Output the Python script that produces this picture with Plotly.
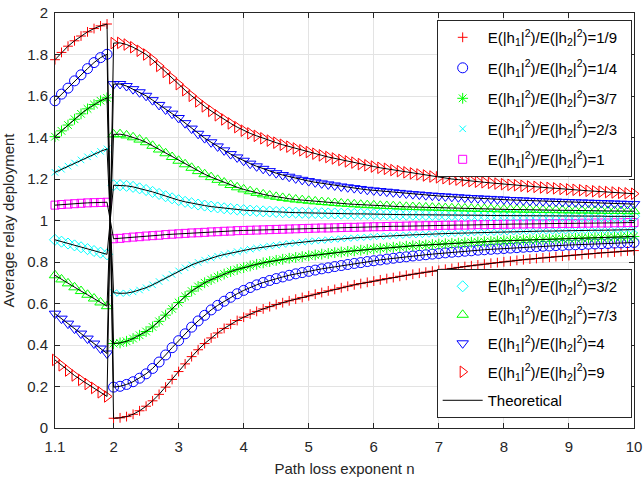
import plotly.graph_objects as go

# x grids
n_low = [1.1, 1.2, 1.3, 1.4, 1.5, 1.6, 1.7, 1.8, 1.9]
n_high = [round(2.0 + 0.1 * i, 1) for i in range(81)]

# ratio 1/9 (red +)
r19_low = [1.775, 1.810, 1.840, 1.866, 1.889, 1.909, 1.925, 1.938, 1.947]
r19_high = [0.047, 0.049, 0.055, 0.066, 0.083, 0.105, 0.131, 0.162, 0.197, 0.234,
            0.272, 0.309, 0.344, 0.377, 0.407, 0.434, 0.458, 0.480, 0.500, 0.518,
            0.534, 0.549, 0.562, 0.574, 0.585, 0.595, 0.604, 0.613, 0.621, 0.629,
            0.637, 0.645, 0.653, 0.661, 0.668, 0.676, 0.683, 0.690, 0.696, 0.702,
            0.708, 0.714, 0.720, 0.725, 0.731, 0.736, 0.741, 0.746, 0.751, 0.756,
            0.760, 0.765, 0.769, 0.774, 0.778, 0.782, 0.786, 0.790, 0.794, 0.797,
            0.801, 0.804, 0.808, 0.811, 0.814, 0.817, 0.820, 0.823, 0.826, 0.828,
            0.831, 0.834, 0.836, 0.839, 0.841, 0.844, 0.846, 0.848, 0.851, 0.853,
            0.855]

# ratio 1/4 (blue o)
r14_low = [1.577, 1.609, 1.638, 1.673, 1.702, 1.732, 1.761, 1.785, 1.801]
r14_high = [0.197, 0.201, 0.210, 0.223, 0.240, 0.261, 0.287, 0.318, 0.352, 0.387,
            0.421, 0.454, 0.486, 0.516, 0.543, 0.569, 0.591, 0.611, 0.630, 0.647,
            0.663, 0.677, 0.690, 0.701, 0.711, 0.720, 0.728, 0.736, 0.743, 0.749,
            0.755, 0.761, 0.767, 0.772, 0.778, 0.783, 0.788, 0.793, 0.797, 0.802,
            0.806, 0.810, 0.814, 0.818, 0.822, 0.825, 0.829, 0.832, 0.835, 0.838,
            0.841, 0.844, 0.847, 0.849, 0.852, 0.854, 0.857, 0.859, 0.861, 0.863,
            0.865, 0.867, 0.869, 0.871, 0.873, 0.874, 0.876, 0.877, 0.879, 0.880,
            0.882, 0.883, 0.884, 0.886, 0.887, 0.888, 0.889, 0.891, 0.892, 0.893,
            0.894]

# ratio 3/7 (green *)
r37_low = [1.404, 1.432, 1.460, 1.488, 1.514, 1.538, 1.559, 1.577, 1.591]
r37_high = [0.407, 0.410, 0.418, 0.431, 0.447, 0.465, 0.487, 0.514, 0.544, 0.574,
            0.605, 0.634, 0.660, 0.682, 0.700, 0.715, 0.729, 0.742, 0.754, 0.764,
            0.773, 0.781, 0.789, 0.796, 0.802, 0.808, 0.813, 0.818, 0.822, 0.826,
            0.830, 0.834, 0.838, 0.841, 0.845, 0.848, 0.851, 0.854, 0.857, 0.860,
            0.863, 0.866, 0.868, 0.871, 0.873, 0.876, 0.878, 0.880, 0.882, 0.884,
            0.886, 0.888, 0.890, 0.891, 0.893, 0.895, 0.896, 0.898, 0.899, 0.901,
            0.902, 0.903, 0.905, 0.906, 0.907, 0.908, 0.909, 0.910, 0.911, 0.912,
            0.913, 0.914, 0.915, 0.916, 0.917, 0.918, 0.919, 0.920, 0.921, 0.922,
            0.923]

# ratio 2/3 (cyan x)
r23_low = [1.232, 1.247, 1.262, 1.277, 1.292, 1.307, 1.320, 1.333, 1.345]
r23_high = [0.652, 0.649, 0.650, 0.656, 0.665, 0.676, 0.690, 0.706, 0.723, 0.740,
            0.757, 0.772, 0.786, 0.798, 0.809, 0.819, 0.828, 0.836, 0.843, 0.850,
            0.856, 0.862, 0.867, 0.872, 0.877, 0.881, 0.885, 0.889, 0.892, 0.896,
            0.899, 0.902, 0.904, 0.907, 0.909, 0.912, 0.914, 0.916, 0.918, 0.920,
            0.922, 0.924, 0.925, 0.927, 0.928, 0.930, 0.931, 0.932, 0.934, 0.935,
            0.936, 0.937, 0.938, 0.939, 0.940, 0.941, 0.942, 0.943, 0.943, 0.944,
            0.945, 0.946, 0.946, 0.947, 0.948, 0.948, 0.949, 0.949, 0.950, 0.950,
            0.951, 0.951, 0.952, 0.952, 0.953, 0.953, 0.954, 0.954, 0.955, 0.955,
            0.956]

# ratio 1 (magenta square)
r1_low = [1.074, 1.077, 1.079, 1.081, 1.083, 1.085, 1.086, 1.087, 1.088]
r1_high = [0.912, 0.914, 0.917, 0.920, 0.922, 0.925, 0.927, 0.929, 0.932, 0.934,
           0.936, 0.938, 0.940, 0.941, 0.943, 0.945, 0.946, 0.948, 0.949, 0.951,
           0.952, 0.953, 0.954, 0.955, 0.956, 0.957, 0.958, 0.959, 0.960, 0.961,
           0.962, 0.963, 0.964, 0.964, 0.965, 0.966, 0.967, 0.967, 0.968, 0.969,
           0.970, 0.970, 0.971, 0.972, 0.972, 0.973, 0.974, 0.974, 0.975, 0.975,
           0.976, 0.977, 0.977, 0.978, 0.978, 0.979, 0.980, 0.980, 0.981, 0.981,
           0.982, 0.982, 0.983, 0.983, 0.984, 0.984, 0.984, 0.985, 0.985, 0.986,
           0.986, 0.986, 0.987, 0.987, 0.988, 0.988, 0.988, 0.989, 0.989, 0.990,
           0.990]

# ratio 3/2 (cyan diamond)
r32_low = [0.907, 0.898, 0.889, 0.880, 0.871, 0.862, 0.853, 0.845, 0.837]
r32_high = [1.170, 1.170, 1.167, 1.162, 1.155, 1.147, 1.138, 1.128, 1.117, 1.107,
            1.098, 1.090, 1.083, 1.077, 1.072, 1.067, 1.063, 1.059, 1.056, 1.053,
            1.050, 1.048, 1.046, 1.044, 1.043, 1.041, 1.040, 1.039, 1.038, 1.037,
            1.036, 1.036, 1.035, 1.034, 1.034, 1.033, 1.033, 1.032, 1.032, 1.031,
            1.031, 1.030, 1.030, 1.029, 1.029, 1.028, 1.028, 1.028, 1.027, 1.027,
            1.027, 1.026, 1.026, 1.026, 1.025, 1.025, 1.025, 1.025, 1.024, 1.024,
            1.024, 1.024, 1.023, 1.023, 1.023, 1.023, 1.022, 1.022, 1.022, 1.022,
            1.022, 1.021, 1.021, 1.021, 1.021, 1.021, 1.020, 1.020, 1.020, 1.020,
            1.020]

# ratio 7/3 (green triangle up)
r73_low = [0.736, 0.716, 0.697, 0.678, 0.660, 0.642, 0.624, 0.605, 0.587]
r73_high = [1.415, 1.416, 1.410, 1.401, 1.390, 1.377, 1.360, 1.342, 1.324, 1.306,
            1.288, 1.271, 1.254, 1.238, 1.223, 1.209, 1.196, 1.183, 1.171, 1.160,
            1.150, 1.141, 1.133, 1.126, 1.120, 1.114, 1.109, 1.105, 1.101, 1.098,
            1.095, 1.092, 1.089, 1.087, 1.084, 1.082, 1.080, 1.078, 1.076, 1.074,
            1.073, 1.071, 1.070, 1.069, 1.067, 1.066, 1.065, 1.064, 1.063, 1.062,
            1.061, 1.060, 1.059, 1.059, 1.058, 1.057, 1.056, 1.056, 1.055, 1.054,
            1.054, 1.053, 1.053, 1.052, 1.052, 1.051, 1.051, 1.050, 1.050, 1.049,
            1.049, 1.048, 1.048, 1.048, 1.047, 1.047, 1.046, 1.046, 1.046, 1.045,
            1.045]

# ratio 4 (blue triangle down)
r4_low = [0.551, 0.527, 0.503, 0.479, 0.455, 0.431, 0.407, 0.383, 0.359]
r4_high = [1.657, 1.658, 1.648, 1.633, 1.618, 1.601, 1.580, 1.557, 1.535, 1.515,
           1.494, 1.469, 1.443, 1.418, 1.397, 1.377, 1.357, 1.338, 1.320, 1.304,
           1.288, 1.274, 1.261, 1.249, 1.238, 1.228, 1.219, 1.211, 1.203, 1.196,
           1.190, 1.184, 1.179, 1.174, 1.169, 1.164, 1.160, 1.156, 1.152, 1.148,
           1.145, 1.142, 1.139, 1.136, 1.133, 1.130, 1.127, 1.125, 1.122, 1.120,
           1.118, 1.116, 1.114, 1.112, 1.110, 1.108, 1.107, 1.105, 1.104, 1.102,
           1.101, 1.099, 1.098, 1.097, 1.095, 1.094, 1.093, 1.092, 1.091, 1.090,
           1.089, 1.088, 1.087, 1.086, 1.085, 1.084, 1.083, 1.082, 1.081, 1.080,
           1.079]

# ratio 9 (red triangle right)
r9_low = [0.328, 0.302, 0.277, 0.253, 0.232, 0.212, 0.193, 0.172, 0.152]
r9_high = [1.855, 1.856, 1.848, 1.835, 1.818, 1.800, 1.775, 1.745, 1.716, 1.686,
           1.657, 1.628, 1.601, 1.574, 1.550, 1.528, 1.507, 1.487, 1.468, 1.450,
           1.433, 1.420, 1.408, 1.396, 1.385, 1.375, 1.365, 1.356, 1.347, 1.338,
           1.330, 1.322, 1.314, 1.306, 1.299, 1.292, 1.285, 1.279, 1.272, 1.266,
           1.260, 1.254, 1.249, 1.243, 1.238, 1.232, 1.227, 1.222, 1.217, 1.212,
           1.208, 1.204, 1.200, 1.197, 1.193, 1.190, 1.187, 1.184, 1.181, 1.178,
           1.175, 1.172, 1.170, 1.167, 1.164, 1.162, 1.159, 1.157, 1.155, 1.152,
           1.150, 1.148, 1.146, 1.143, 1.141, 1.139, 1.137, 1.135, 1.133, 1.131,
           1.129]

ratio_labels = ["1/9", "1/4", "3/7", "2/3", "1", "3/2", "7/3", "4", "9"]
x_ticks = [1.1, 2, 3, 4, 5, 6, 7, 8, 9, 10]
x_ticktext = ["1.1", "2", "3", "4", "5", "6", "7", "8", "9", "10"]

series = [
    (r19_low, r19_high, "#FF0000", "cross-thin-open", 7, "legend"),
    (r14_low, r14_high, "#0000FF", "circle-open", 10, "legend"),
    (r37_low, r37_high, "#00FF00", "asterisk-open", 9, "legend"),
    (r23_low, r23_high, "#00FFFF", "x-thin-open", 6.5, "legend"),
    (r1_low, r1_high, "#FF00FF", "square-open", 8, "legend"),
    (r32_low, r32_high, "#00FFFF", "diamond-open", 8.5, "legend2"),
    (r73_low, r73_high, "#00FF00", "triangle-up-open", 10, "legend2"),
    (r4_low, r4_high, "#0000FF", "triangle-down-open", 10, "legend2"),
    (r9_low, r9_high, "#FF0000", "triangle-right-open", 10, "legend2"),
]

fig = go.Figure()
xs = n_low + n_high
for i, (lo, hi, col, sym, sz, leg) in enumerate(series):
    name = ("E(|h<sub>1</sub>|<sup>2</sup>)/E(|h<sub>2</sub>|<sup>2</sup>)="
            + ratio_labels[i] + "&nbsp;&nbsp;")
    fig.add_trace(go.Scatter(
        x=xs, y=lo + hi, mode="markers", name=name, legend=leg,
        legendgroup="g%d" % i, cliponaxis=False,
        marker=dict(symbol=sym, size=sz, color=col, line=dict(color=col, width=1)),
    ))

for i, (lo, hi, col, sym, sz, leg) in enumerate(series):
    fig.add_trace(go.Scatter(
        x=xs, y=lo + hi, mode="lines", name="Theoretical", legend="legend2",
        legendgroup="theo", showlegend=(i == 0),
        line=dict(color="black", width=1),
    ))

axis_common = dict(
    showline=True, mirror="ticks", linecolor="#262626", linewidth=1,
    ticks="inside", ticklen=5, tickcolor="#262626",
    showgrid=True, gridcolor="#e3e3e3", gridwidth=1, zeroline=False,
    tickfont=dict(size=15, color="#262626"), automargin=False,
)

fig.update_layout(
    width=643, height=477,
    margin=dict(l=55, r=9, t=13, b=49),
    paper_bgcolor="white", plot_bgcolor="white",
    font=dict(family="Liberation Sans, Arial, sans-serif", size=15, color="#262626"),
    xaxis=dict(range=[1.1, 10], tickvals=x_ticks, ticktext=x_ticktext,
               title=dict(text="Path loss exponent n", font=dict(size=15)),
               ticklabelstandoff=5, **axis_common),
    yaxis=dict(range=[0, 2], tick0=0, dtick=0.2,
               title=dict(text="Average relay deployment", font=dict(size=15)),
               ticklabelstandoff=3, **axis_common),
    legend=dict(x=0.996, y=0.983, xanchor="right", yanchor="top",
                bgcolor="white", bordercolor="#262626", borderwidth=1,
                font=dict(size=15, color="#000000"), tracegroupgap=8,
                itemwidth=40),
    legend2=dict(x=0.996, y=0.024, xanchor="right", yanchor="bottom",
                 bgcolor="white", bordercolor="#262626", borderwidth=1,
                 font=dict(size=15, color="#000000"), tracegroupgap=6,
                 itemwidth=40),
    showlegend=True,
)

fig.write_html("out.html")
